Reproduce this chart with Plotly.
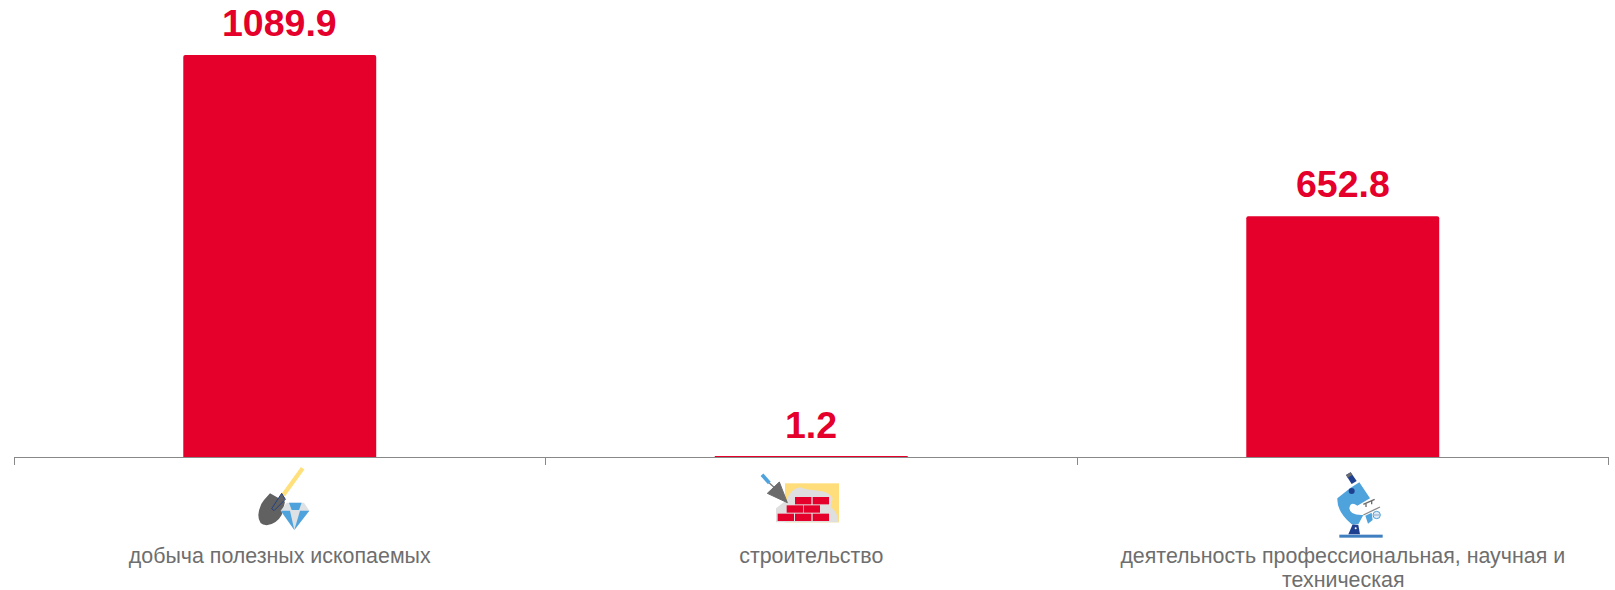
import base64
import plotly.graph_objects as go

categories = ["добыча полезных ископаемых", "строительство", "деятельность профессиональная, научная и техническая"]
tick_labels = ["добыча полезных ископаемых", "строительство", "деятельность профессиональная, научная и"]
second_line = "техническая"
values = [1089.9, 1.2, 652.8]
value_labels = ["1089.9", "1.2", "652.8"]

RED = "#E4002B"
AXIS = "#888888"
TEXT = "#6E6E6E"
W, H = 1615, 590
L, R, T, B = 14, 6, 55, 133
PW, PH = W - L - R, H - T - B


def svg(body, w=360, h=270):
    s = f'<svg xmlns="http://www.w3.org/2000/svg" viewBox="0 0 {w} {h}" width="{w}" height="{h}">{body}</svg>'
    return "data:image/svg+xml;base64," + base64.b64encode(s.encode("utf-8")).decode()


shovel = svg(
    '<line x1="218" y1="55" x2="160" y2="135" stroke="#FFE07A" stroke-width="13"/>'
    '<path d="M120 130 L165 155 L155 195 Q140 222 110 226 Q85 225 85 195 Q88 165 102 150 Z" fill="#616161"/>'
    '<path d="M155 130 L166 148 L132 182 L125 176 Z" fill="#616161" stroke="#24407F" stroke-width="3"/>'
    '<path d="M170 158 L222 158 L238 182 L193 240 L152 182 Z" fill="#DDE1E4"/>'
    '<path d="M177 158 L215 158 L207 180 L185 180 Z" fill="#4FA3DC"/>'
    '<path d="M152 182 L180 182 L193 240 Z" fill="#4FA3DC"/>'
    '<path d="M238 182 L210 182 L193 240 Z" fill="#4FA3DC"/>'
)

brick_rects = [
    (165, 141), (218, 141), (140, 166), (191, 166), (113, 191), (165, 191), (218, 191),
]
bricks = svg(
    '<rect x="135" y="100" width="162" height="117" fill="#FFDD7A"/>'
    '<path d="M108 217 L108 175 L140 150 Q150 118 180 112 Q200 120 235 122 Q270 125 278 145 '
    'L272 170 Q296 190 295 217 Z" fill="#DFDFDF"/>'
    + "".join(f'<rect x="{x}" y="{y}" width="49" height="22" fill="{RED}"/>' for x, y in brick_rects)
    + '<line x1="66" y1="74" x2="88" y2="99" stroke="#4FA3DC" stroke-width="11"/>'
    '<line x1="88" y1="99" x2="102" y2="112" stroke="#777777" stroke-width="4"/>'
    '<path d="M118 96 L142 158 L82 130 Z" fill="#6B6B6B" stroke="#6B6B6B" stroke-width="3" stroke-linejoin="round"/>'
)

microscope = svg(
    '<rect x="28" y="209" width="130" height="9" fill="#3F7FC0"/>'
    '<path d="M55 208 L68 178 L85 180 L90 208 Z" fill="#1F3F8F"/>'
    '<circle cx="77" cy="190" r="3" fill="#FFFFFF"/>'
    '<path d="M22 100 L62 68 L88 52 L120 100 L82 122 Q62 108 58 130 Q60 152 100 150 '
    'L85 178 L65 178 Q20 140 22 100 Z" fill="#4FA3DC"/>'
    '<path d="M48 30 L62 22 L80 48 L65 57 Z" fill="#1F3F8F"/>'
    '<path d="M48 30 L62 22 L67 30 L53 38 Z" fill="#6B6B6B"/>'
    '<circle cx="65" cy="78" r="9" fill="#1F3F8F"/>'
    '<line x1="100" y1="118" x2="134" y2="103" stroke="#6B6B6B" stroke-width="4"/>'
    '<line x1="108" y1="116" x2="108" y2="126" stroke="#6B6B6B" stroke-width="4"/>'
    '<line x1="125" y1="108" x2="125" y2="118" stroke="#6B6B6B" stroke-width="4"/>'
    '<line x1="100" y1="150" x2="150" y2="126" stroke="#8A8A8A" stroke-width="4"/>'
    '<path d="M106 152 L125 143 L128 165 L114 176 Z" fill="#4FA3DC"/>'
    '<circle cx="140" cy="150" r="11" fill="#DCEBF5" stroke="#4FA3DC" stroke-width="3"/>'
    '<line x1="131" y1="150" x2="149" y2="150" stroke="#8FA8C8" stroke-width="3"/>',
    180, 234,
)


def icon(src, left, top, w, h):
    return dict(
        source=src, xref="paper", yref="paper",
        x=(left - L) / PW, y=1 - (top - T) / PH,
        sizex=w / PW, sizey=h / PH,
        xanchor="left", yanchor="top", sizing="stretch", layer="above",
    )


fig = go.Figure(
    go.Bar(
        x=categories, y=values,
        marker=dict(color=RED, cornerradius=2, line=dict(width=0)),
        cliponaxis=False, hoverinfo="skip",
    )
)
for c, v, t in zip(categories, values, value_labels):
    fig.add_annotation(
        x=c, y=v, text=t, showarrow=False, xanchor="center", yanchor="bottom",
        yshift=9,
        font=dict(family="Liberation Sans", size=37.5, color=RED, weight="bold"),
    )
fig.add_annotation(
    x=categories[2], xref="x", yref="paper", y=-(580 - 457) / PH, text=second_line,
    showarrow=False, xanchor="center", yanchor="middle",
    font=dict(family="Liberation Sans", size=21.4, color=TEXT),
)
# closing tick at the right end of the category axis
fig.add_shape(type="line", xref="x", yref="paper", x0=2.5, x1=2.5, y0=0, y1=-7 / PH,
              line=dict(color=AXIS, width=1))
fig.update_layout(
    width=W, height=H,
    margin=dict(l=L, r=R, t=T, b=B, pad=0),
    plot_bgcolor="white", paper_bgcolor="white",
    showlegend=False, bargap=0.637,
    images=[
        icon(shovel, 230, 450, 120, 90),
        icon(bricks, 740, 450, 120, 90),
        icon(microscope, 1330, 465, 60, 78),
    ],
)
fig.update_xaxes(
    type="category", tickmode="array", tickvals=categories, ticktext=tick_labels,
    tickson="boundaries", ticks="outside", ticklen=7, tickwidth=1, tickcolor=AXIS,
    showline=True, linecolor=AXIS, linewidth=1, showgrid=False, zeroline=False,
    tickangle=0, ticklabelstandoff=79,
    tickfont=dict(family="Liberation Sans", size=21.4, color=TEXT),
    automargin=False,
)
fig.update_yaxes(range=[0, 1089.9], visible=False, showgrid=False, zeroline=False, automargin=False)

fig.write_html("out.html", config=dict(displayModeBar=False), post_script="document.body.style.margin='0';")
